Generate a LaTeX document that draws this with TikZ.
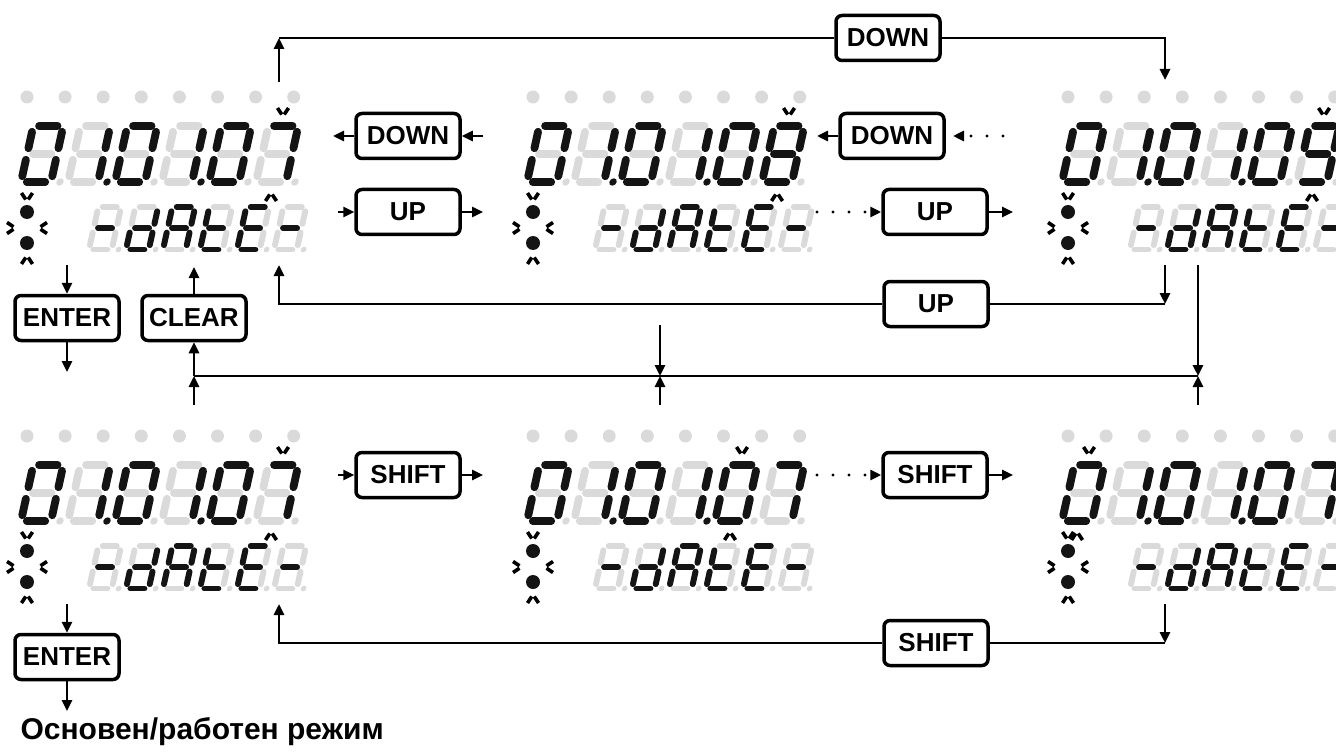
\documentclass[tikz,border=0pt]{standalone}
\usepackage{fontspec}
\setmainfont{Liberation Sans}
\usetikzlibrary{arrows.meta}

\definecolor{segoff}{HTML}{DADADA}
\definecolor{segon}{HTML}{141414}

% lit segments of each character
\newcommand{\chO}{a,b,c,d,e,f}
\newcommand{\chI}{b,c}
\newcommand{\chVII}{a,b,c}
\newcommand{\chVIII}{a,b,c,d,e,f,g}
\newcommand{\chIX}{a,b,c,d,f,g}
\newcommand{\chDash}{g}
\newcommand{\chD}{b,c,d,e,g}
\newcommand{\chA}{a,b,c,e,f,g}
\newcommand{\chT}{d,e,f,g}
\newcommand{\chE}{a,d,e,f,g}

% one slanted digit: position, scale, lit segments, colour of the point
\newcommand{\segdigit}[4]{%
  \begin{scope}[shift={#1},scale=#2,xslant=0.22]
    \path (5.8,-56) coordinate (a1) (24.2,-56) coordinate (a2)
          (30,-50.2) coordinate (b1) (30,-33.8) coordinate (b2)
          (30,-22.2) coordinate (c1) (30,-5.8) coordinate (c2)
          (5.8,0) coordinate (d1) (24.2,0) coordinate (d2)
          (0,-5.8) coordinate (e1) (0,-22.2) coordinate (e2)
          (0,-33.8) coordinate (f1) (0,-50.2) coordinate (f2)
          (5.8,-28) coordinate (g1) (24.2,-28) coordinate (g2);
    \foreach \n in {a,...,g} \draw[segment=#2,segoff] (\n1) -- (\n2);
    \edef\seglist{#3}
    \foreach \n in \seglist \draw[segment=#2,segon] (\n1) -- (\n2);
    \fill[#4] (39,0) circle (3.7);
  \end{scope}}

% whole display: offset, last digit, blinking digit
\newcommand{\lcdpanel}[3]{%
  \begin{scope}[shift={#1}]
    \foreach \k in {0,...,7} \fill[segoff] (27+38.1*\k,97) circle (6.5);
    \foreach \i/\s/\p in {0/\chO/segoff,1/\chI/segon,2/\chO/segoff,
                          3/\chI/segon,4/\chO/segoff,5/#2/segoff}
      \segdigit{(21+47*\i,182)}{1}{\s}{\p};
    \foreach \i/\s in {0/\chDash,1/\chD,2/\chA,3/\chT,4/\chE,5/\chDash}
      \segdigit{(89+37*\i,249.5)}{0.76}{\s}{segoff};
    \pic at (48+47*#3,113) {chev};
    \pic[rotate=180] at (36+47*#3,196) {chev};
    % status lamps
    \fill[segon] (27,212) circle (7) (27,243) circle (7);
    \pic at (27,198) {chev};
    \pic[rotate=90] at (12,228) {chev};
    \pic[rotate=-90] at (42,228) {chev};
    \pic[rotate=180] at (27,259) {chev};
  \end{scope}}

\begin{document}
\begin{tikzpicture}[x=1pt,y=-1pt,>={Triangle[length=11pt,width=10pt]}]
  \tikzstyle{btn}=[draw,line width=3.5pt,rounded corners=6pt,fill=white,
                   minimum width=104pt,minimum height=45pt,inner sep=3pt,
                   font=\fontsize{26}{26}\selectfont\bfseries]
  \tikzstyle{wire}=[line width=2.6pt]
  \tikzstyle{dots}=[line width=3.2pt,line cap=round,dash pattern=on 0pt off 16pt]
  \tikzset{segment/.style={line width=#1*7.8pt,line cap=round},
           chev/.pic={\draw[line width=3.6pt] (-5.5,-5) -- (-1.2,1.5)
                                              (1.2,1.5) -- (5.5,-5);}}

  \useasboundingbox (0,0) rectangle (1336,754);
  \clip (0,0) rectangle (1336,754);

  \lcdpanel{(0,0)}{\chVII}{5}
  \lcdpanel{(506,0)}{\chVIII}{5}
  \lcdpanel{(1041,0)}{\chIX}{5}
  \lcdpanel{(0,339)}{\chVII}{5}
  \lcdpanel{(506,339)}{\chVII}{4}
  \lcdpanel{(1041,339)}{\chVII}{0}

  % upper row of keys
  \node[btn] (downtop) at (888,38) {DOWN};
  \node[btn] (downa) at (408,136) {DOWN};
  \node[btn] (upa) at (408,212) {UP};
  \node[btn] (downb) at (892,136) {DOWN};
  \node[btn] (upb) at (935,212) {UP};
  \node[btn] (upret) at (936,304) {UP};
  \node[btn] (entera) at (67,318) {ENTER};
  \node[btn] (cleara) at (194,318) {CLEAR};

  \coordinate (p1up) at (279,82);
  \coordinate (p3dn) at (1165,80);
  \coordinate (p3out) at (1165,265);
  \coordinate (p1in) at (279,265);
  \coordinate (da-r) at (483,136);
  \coordinate (da-l) at (333,136);
  \coordinate (ua-l) at (338,212);
  \coordinate (ua-r) at (483,212);
  \coordinate (db-l) at (817,136);
  \coordinate (db-r) at (1003,136);
  \coordinate (db-tip) at (953,136);
  \coordinate (ub-l) at (817,212);
  \coordinate (ub-r) at (1013,212);
  \coordinate (ea-in) at (67,265);
  \coordinate (ea-out) at (67,372);
  \coordinate (ca-out) at (194,267);

  \draw[wire,->] (p1up) -- (p1up |- downtop);
  \draw[wire] (p1up |- downtop) -- (downtop);
  \draw[wire,->] (downtop) -| (p3dn);

  \draw[wire,->] (da-r) -- (downa);
  \draw[wire,->] (downa) -- (da-l);
  \draw[wire,->] (ua-l) -- (upa);
  \draw[wire,->] (upa) -- (ua-r);
  \draw[wire,->] (downb) -- (db-l);
  \draw[dots,->] (db-r) -- (db-tip);
  \draw[dots,->] (ub-l) -- (upb);
  \draw[wire,->] (upb) -- (ub-r);

  \draw[wire,->] (p3out) -- (p3out |- upret);
  \draw[wire] (p3out |- upret) -- (upret);
  \draw[wire,->] (upret) -| (p1in);

  \draw[wire,->] (ea-in) -- (entera);
  \draw[wire,->] (entera) -- (ea-out);
  \draw[wire,->] (cleara) -- (ca-out);

  % common line to the lower row
  \coordinate (bus1) at (194,376);
  \coordinate (bus2) at (660,376);
  \coordinate (bus3) at (1198,376);
  \coordinate (low1) at (194,405);
  \coordinate (low2) at (660,405);
  \coordinate (low3) at (1198,405);
  \coordinate (top2) at (660,325);
  \coordinate (top3) at (1198,265);
  \draw[wire] (bus1) -- (bus3);
  \draw[wire,->] (bus1) -- (cleara);
  \foreach \b in {1,2,3} \draw[wire,->] (low\b) -- (bus\b);
  \draw[wire,->] (top2) -- (bus2);
  \draw[wire,->] (top3) -- (bus3);

  % lower row of keys
  \node[btn] (shifta) at (408,475) {SHIFT};
  \node[btn] (shiftb) at (935,475) {SHIFT};
  \node[btn] (shiftret) at (936,643) {SHIFT};
  \node[btn] (enterb) at (67,657) {ENTER};

  \coordinate (sa-l) at (338,475);
  \coordinate (sa-r) at (483,475);
  \coordinate (sb-l) at (817,475);
  \coordinate (sb-r) at (1013,475);
  \coordinate (q3out) at (1165,604);
  \coordinate (q1in) at (279,604);
  \coordinate (eb-in) at (67,604);
  \coordinate (eb-out) at (67,711);

  \draw[wire,->] (sa-l) -- (shifta);
  \draw[wire,->] (shifta) -- (sa-r);
  \draw[dots,->] (sb-l) -- (shiftb);
  \draw[wire,->] (shiftb) -- (sb-r);
  \draw[wire,->] (q3out) -- (q3out |- shiftret);
  \draw[wire] (q3out |- shiftret) -- (shiftret);
  \draw[wire,->] (shiftret) -| (q1in);
  \draw[wire,->] (eb-in) -- (enterb);
  \draw[wire,->] (enterb) -- (eb-out);

  \node[anchor=base west,font=\fontsize{30}{30}\selectfont\bfseries] (mode)
    at (17,739) {Основен/работен режим};
\end{tikzpicture}
\end{document}
